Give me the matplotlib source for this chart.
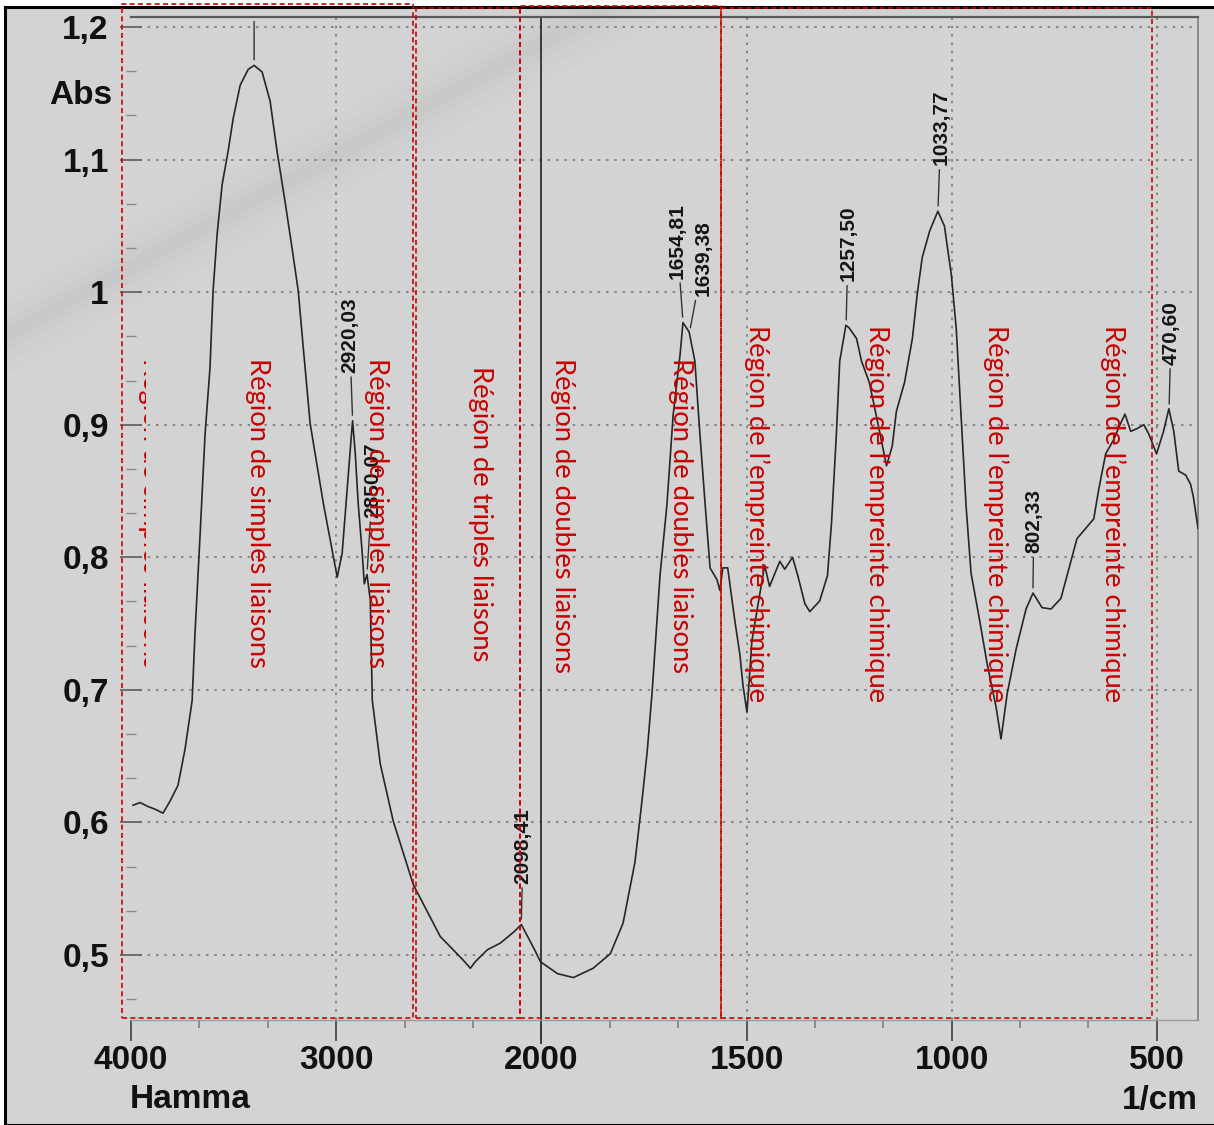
import numpy as np
import matplotlib
matplotlib.use('Agg')
import matplotlib.pyplot as plt
from matplotlib.patches import Rectangle, Polygon
from matplotlib.ticker import FixedLocator, FixedFormatter
from matplotlib.transforms import Bbox, TransformedBbox, blended_transform_factory

W, H, DPI = 1214, 1125, 100

# ---------------- data ----------------
wavenumber = [3990, 3956, 3917, 3883, 3844, 3810, 3771, 3737, 3702, 3688,
              3663, 3639, 3615, 3600, 3580, 3556, 3527, 3502, 3468, 3429,
              3400, 3361, 3322, 3288, 3249, 3215, 3185, 3161, 3127, 3063,
              3029, 2995, 2971, 2946, 2927, 2920, 2907, 2893, 2873, 2863,
              2850, 2834, 2824, 2785, 2722, 2624, 2493, 2380, 2346, 2322,
              2263, 2200, 2130, 2098, 2060, 2030, 2005, 1961, 1922, 1874,
              1832, 1801, 1772, 1755, 1742, 1730, 1711, 1694, 1679, 1662,
              1655, 1640, 1626, 1614, 1601, 1589, 1572, 1565, 1558, 1546,
              1529, 1516, 1509, 1499, 1487, 1456, 1444, 1419, 1407, 1388,
              1375, 1358, 1346, 1322, 1303, 1293, 1281, 1273, 1258, 1250,
              1232, 1220, 1201, 1176, 1159, 1145, 1135, 1115, 1096, 1084,
              1072, 1054, 1034, 1018, 1001, 989, 977, 965, 953, 933,
              914, 892, 880, 865, 843, 819, 802, 780, 758, 734,
              715, 695, 673, 654, 642, 625, 605, 593, 578, 564,
              549, 532, 520, 501, 484, 471, 459, 447, 430, 418,
              411, 400]
absorbance = [0.613, 0.615, 0.612, 0.610, 0.607, 0.616, 0.628, 0.655, 0.692, 0.743,
              0.818, 0.893, 0.943, 1.001, 1.044, 1.081, 1.106, 1.131, 1.156, 1.168,
              1.171, 1.166, 1.144, 1.106, 1.068, 1.033, 1.001, 0.959, 0.901, 0.841,
              0.813, 0.785, 0.803, 0.853, 0.890, 0.903, 0.878, 0.841, 0.803, 0.780,
              0.787, 0.768, 0.692, 0.644, 0.601, 0.553, 0.514, 0.496, 0.490, 0.495,
              0.504, 0.509, 0.518, 0.523, 0.512, 0.503, 0.495, 0.486, 0.483, 0.490,
              0.501, 0.524, 0.570, 0.616, 0.654, 0.699, 0.786, 0.840, 0.907, 0.953,
              0.977, 0.970, 0.948, 0.894, 0.840, 0.792, 0.783, 0.775, 0.792, 0.792,
              0.753, 0.726, 0.704, 0.683, 0.737, 0.794, 0.778, 0.797, 0.791, 0.800,
              0.786, 0.765, 0.759, 0.767, 0.786, 0.826, 0.894, 0.948, 0.975, 0.973,
              0.965, 0.948, 0.932, 0.895, 0.869, 0.884, 0.910, 0.932, 0.965, 0.999,
              1.026, 1.046, 1.061, 1.050, 1.013, 0.972, 0.905, 0.838, 0.788, 0.754,
              0.720, 0.687, 0.663, 0.697, 0.731, 0.761, 0.773, 0.762, 0.761, 0.769,
              0.791, 0.814, 0.822, 0.829, 0.851, 0.878, 0.889, 0.898, 0.908, 0.895,
              0.897, 0.900, 0.893, 0.878, 0.895, 0.912, 0.895, 0.865, 0.862, 0.855,
              0.845, 0.822]

peak_wn = [2920.03, 2850.07, 2098.41, 1654.81, 1639.38, 1257.50, 1033.77, 802.33, 470.60]
top_peak_wn = 3400

x_major = [4000, 3000, 2000, 1500, 1000, 500]
x_major_labels = ['4000', '3000', '2000', '1500', '1000', '500']
x_minor = [3667, 3333, 2667, 2333, 1833, 1667, 1333, 1167, 833, 667]
y_major = [0.5, 0.6, 0.7, 0.8, 0.9, 1.0, 1.1, 1.2]
y_major_labels = ['0,5', '0,6', '0,7', '0,8', '0,9', '1', '1,1', '1,2']
grid_x = [3000, 1500, 1000, 500]
scale_break = 2000

region_labels = ['Région de simples liaisons', 'Région de simples liaisons',
                 'Région de simples liaisons', 'Région de triples liaisons',
                 'Région de doubles liaisons', 'Région de doubles liaisons',
                 'Région de l’empreinte chimique', 'Région de l’empreinte chimique',
                 'Région de l’empreinte chimique', 'Région de l’empreinte chimique']
# region boxes as wavenumber spans
region_spans = [(4044, 2625), (2610, 2103), (2103, 1563), (1563, 513)]

# ---------------- layout ----------------
def fx(px):
    return px / W

def fy(py):
    return 1 - py / H

AX_L, AX_R, AX_T, AX_B = 131, 1198, 17, 1020

def fwd(x):
    x = np.asarray(x, dtype=float)
    return np.where(x > 2000, 2000 + (x - 2000) / 2.0, x)

def inv(u):
    u = np.asarray(u, dtype=float)
    return np.where(u > 2000, 2000 + (u - 2000) * 2.0, u)

fig = plt.figure(figsize=(W / DPI, H / DPI), dpi=DPI, facecolor='white')
paper = '#d3d3d3'
fig.add_artist(Rectangle((fx(5), 0), 1.0, fy(7), transform=fig.transFigure,
                         facecolor=paper, edgecolor='black', lw=2.2, zorder=-20))
# very faint diagonal paper crease (soft, layered)
for half, alpha in [(40, 0.006), (28, 0.008), (16, 0.010), (8, 0.010)]:
    c0, c1 = 336, 606   # centre line: y = c0 at x=5, reaches y=8 near x=c1
    pts = [(5, c0 - half), (c1 - half * 1.9, 8), (c1 + half * 1.9, 8), (5, c0 + half)]
    fig.add_artist(Polygon([(fx(p[0]), fy(p[1])) for p in pts], closed=True,
                           transform=fig.transFigure, facecolor='black',
                           edgecolor='none', alpha=alpha, zorder=-19))

ax = fig.add_axes([fx(AX_L), fy(AX_B), (AX_R - AX_L) / W, (AX_B - AX_T) / H])
ax.set_facecolor('none')
ax.set_xscale('function', functions=(fwd, inv))
ax.set_xlim(4000, 400)
ax.set_ylim(0.451, 1.2075)

# grid
for g in grid_x:
    ax.axvline(g, color='#7a7a7a', lw=1.2, ls=(0, (1.5, 3.5)), zorder=1)
for g in y_major:
    ax.axhline(g, color='#7a7a7a', lw=1.2, ls=(0, (1.5, 3.5)), zorder=1)
bt = blended_transform_factory(ax.transData, ax.transAxes)
ax.plot([scale_break, scale_break], [1.0, -0.023], transform=bt, color='#3a3a3a',
        lw=1.4, clip_on=False, zorder=2)

# spectrum
ax.plot(wavenumber, absorbance, color='#262626', lw=1.2, zorder=3)

# spines
ax.spines['left'].set_visible(False)
ax.spines['top'].set_color('#5a5a5a')
ax.spines['top'].set_linewidth(1.6)
ax.spines['right'].set_color('#777777')
ax.spines['right'].set_linewidth(1.1)
ax.spines['bottom'].set_color('#9a9a9a')
ax.spines['bottom'].set_linewidth(1.0)

# ticks
ax.xaxis.set_major_locator(FixedLocator(x_major))
ax.xaxis.set_major_formatter(FixedFormatter(x_major_labels))
ax.xaxis.set_minor_locator(FixedLocator(x_minor))
ax.yaxis.set_major_locator(FixedLocator(y_major))
ax.yaxis.set_major_formatter(FixedFormatter(y_major_labels))
y_minor = [m + k / 30 for m in [0.4] + y_major[:-1] for k in (2, 1)]
y_minor = [v for v in y_minor if 0.452 < v < 1.2 and all(abs(v - m) > 1e-6 for m in y_major)]
ax.yaxis.set_minor_locator(FixedLocator(y_minor))
ax.tick_params(axis='x', which='major', direction='out', length=15, width=1.4,
               color='#555555', pad=3)
ax.tick_params(axis='x', which='minor', direction='out', length=6, width=1.1,
               color='#777777')
ax.tick_params(axis='y', which='major', direction='inout', length=16, width=1.3,
               color='#666666', pad=8)
ax.tick_params(axis='y', which='minor', direction='inout', length=7, width=1.0,
               color='#888888')
tick_font = dict(family=['Liberation Sans', 'DejaVu Sans'], weight='bold', size=24)
for lbl in ax.get_xticklabels() + ax.get_yticklabels():
    lbl.set_fontfamily(tick_font['family'])
    lbl.set_fontweight('bold')
    lbl.set_fontsize(24)
    lbl.set_color('#111111')

fig.text(fx(112), fy(95), 'Abs', ha='right', va='center', **tick_font, color='#111111')
fig.text(fx(130), fy(1100), 'Hamma', ha='left', va='center', **tick_font, color='#111111')
fig.text(fx(1198), fy(1100), '1/cm', ha='right', va='center', **tick_font, color='#111111')

# peak labels
order = np.argsort(wavenumber)
wn_sorted = np.asarray(wavenumber, dtype=float)[order]
ab_sorted = np.asarray(absorbance, dtype=float)[order]
label_offsets = [(-3, 48), (6, 57), (2, 41), (-6, 44), (14, 37), (2, 44), (3, 46), (1, 40), (2, 45)]
for wn, (dx, dy) in zip(peak_wn, label_offsets):
    a = float(np.interp(wn, wn_sorted, ab_sorted))
    ax.annotate(f'{wn:.2f}'.replace('.', ','), xy=(wn, a), xytext=(dx, dy),
                textcoords='offset pixels', rotation=90, ha='center', va='bottom',
                fontsize=15, fontweight='bold', family=['Liberation Sans', 'DejaVu Sans'],
                color='#151515',
                arrowprops=dict(arrowstyle='-', color='#333333', lw=1.0,
                                shrinkA=1, shrinkB=4), zorder=5)
a_top = float(np.interp(top_peak_wn, wn_sorted, ab_sorted))
ax.annotate('', xy=(top_peak_wn, a_top), xytext=(0, 44), textcoords='offset pixels',
            arrowprops=dict(arrowstyle='-', color='#333333', lw=1.0, shrinkA=0, shrinkB=4),
            annotation_clip=False)

# red region boxes (dashed)
red = '#d00000'
box_tops = [4, 8, 6, 8]
for (w0, w1), top in zip(region_spans, box_tops):
    y0 = (AX_B - 1018) / (AX_B - AX_T)
    y1 = (AX_B - top) / (AX_B - AX_T)
    ax.plot([w0, w1, w1, w0, w0], [y0, y0, y1, y1, y0], transform=bt, color=red,
            lw=1.2, ls=(0, (3, 2)), clip_on=False, zorder=6)

# red region texts
red_font = ['Lato', 'DejaVu Sans']
renderer = fig.canvas.get_renderer()
probe = fig.text(0, 0, region_labels[6], fontsize=20, family=red_font)
width = probe.get_window_extent(renderer).width
probe.remove()
red_size = 20 * 380 / width
region_pos = [(150, 358), (257, 358), (377, 358), (481, 366), (562, 358),
              (680, 358), (757, 325), (877, 325), (996, 325), (1113, 325)]
for i, (txt, (px, py)) in enumerate(zip(region_labels, region_pos)):
    t = fig.text(fx(px), fy(py), txt, rotation=270, ha='center', va='top',
                 fontsize=red_size, family=red_font, color='#c80000', zorder=7)
    if i == 0:
        t.set_clip_on(True)
        t.set_clip_box(TransformedBbox(Bbox([[fx(122), 0], [fx(146), 1]]), fig.transFigure))

fig.savefig('out.png', dpi=DPI, facecolor='white')
